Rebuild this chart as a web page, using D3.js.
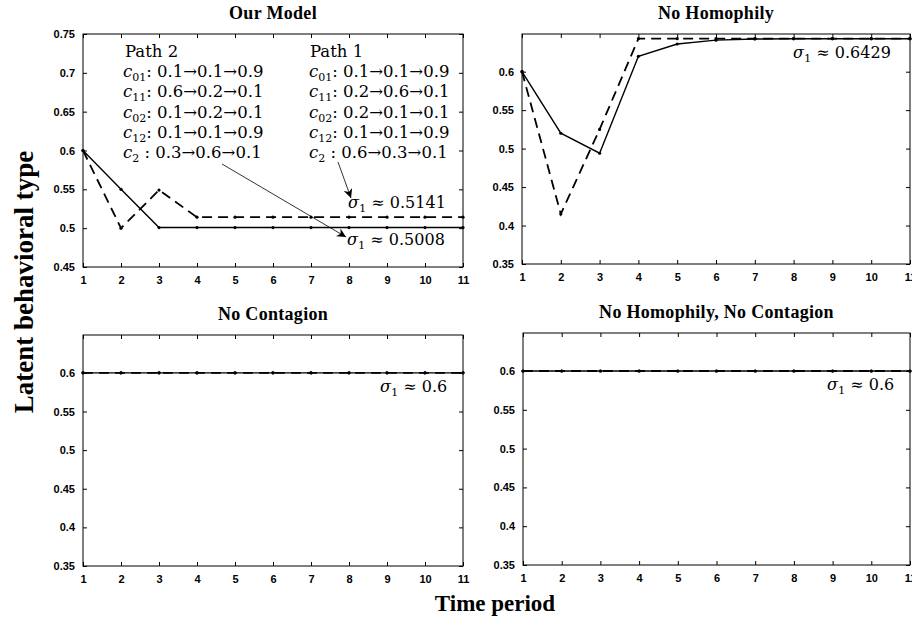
<!DOCTYPE html>
<html>
<head>
<meta charset="utf-8">
<script src="https://cdn.jsdelivr.net/npm/d3@7"></script>
<style>
  body { margin: 0; background: #fff; }
  .tick text { font-family: "Liberation Sans", Arial, sans-serif; font-weight: bold; font-size: 11px; }
  .title { font-family: "Liberation Serif", serif; font-weight: bold; }
  .tex { font-family: "DejaVu Serif", serif; font-size: 16.5px; }
</style>
</head>
<body>
<svg id="chart" width="912" height="620"></svg>
<script>
// time periods
const periods = [1, 2, 3, 4, 5, 6, 7, 8, 9, 10, 11];

// Our Model
const ourSolid  = [0.6, 0.55, 0.5008, 0.5008, 0.5008, 0.5008, 0.5008, 0.5008, 0.5008, 0.5008, 0.5008];
const ourDashed = [0.6, 0.5, 0.549, 0.5141, 0.5141, 0.5141, 0.5141, 0.5141, 0.5141, 0.5141, 0.5141];

// No Homophily
const nhSolid  = [0.6, 0.52, 0.494, 0.62, 0.636, 0.641, 0.6425, 0.6429, 0.6429, 0.6429, 0.6429];
const nhDashed = [0.6, 0.415, 0.525, 0.6429, 0.6429, 0.6429, 0.6429, 0.6429, 0.6429, 0.6429, 0.6429];

// No Contagion / No Homophily, No Contagion
const ncSolid  = [0.6, 0.6, 0.6, 0.6, 0.6, 0.6, 0.6, 0.6, 0.6, 0.6, 0.6];
const ncDashed = [0.6, 0.6, 0.6, 0.6, 0.6, 0.6, 0.6, 0.6, 0.6, 0.6, 0.6];

const ticksTop = [0.45, 0.5, 0.55, 0.6, 0.65, 0.7, 0.75];
const ticksLow = [0.35, 0.4, 0.45, 0.5, 0.55, 0.6];

const path2 = [["01", "0.1→0.1→0.9"], ["11", "0.6→0.2→0.1"], ["02", "0.1→0.2→0.1"], ["12", "0.1→0.1→0.9"], ["2", "0.3→0.6→0.1"]];
const path1 = [["01", "0.1→0.1→0.9"], ["11", "0.2→0.6→0.1"], ["02", "0.2→0.1→0.1"], ["12", "0.1→0.1→0.9"], ["2", "0.6→0.3→0.1"]];

const panels = [
    {title: "Our Model", left: 83, right: 463, top: 34, bottom: 267, domain: [0.45, 0.75], ticks: ticksTop, solid: ourSolid, dashed: ourDashed},
    {title: "No Homophily", left: 522, right: 910, top: 34, bottom: 264, domain: [0.35, 0.649], ticks: ticksLow, solid: nhSolid, dashed: nhDashed},
    {title: "No Contagion", left: 83, right: 463, top: 335, bottom: 566, domain: [0.35, 0.649], ticks: ticksLow, solid: ncSolid, dashed: ncDashed},
    {title: "No Homophily, No Contagion", left: 523, right: 910, top: 333, bottom: 565, domain: [0.35, 0.649], ticks: ticksLow, solid: ncSolid, dashed: ncDashed}
];

const svg = d3.select("#chart");

svg.append("defs").append("marker")
    .attr("id", "arr")
    .attr("viewBox", "0 0 10 10")
    .attr("refX", 10).attr("refY", 5)
    .attr("markerWidth", 9).attr("markerHeight", 9)
    .attr("markerUnits", "userSpaceOnUse")
    .attr("orient", "auto")
    .append("path")
    .attr("d", "M0,0 L10,5 L0,10 L3,5 Z")
    .attr("fill", "#000");

function texSigma(g, x, y, value) {
    const t = g.append("text").attr("class", "tex").attr("x", x).attr("y", y).style("font-size", "16px");
    t.append("tspan").attr("font-style", "italic").text("σ");
    t.append("tspan").style("font-size", "11.5px").attr("dy", 4).text("1");
    t.append("tspan").attr("dy", -4).text(" ≈ " + value);
}

function texC(g, x, y, sub, value) {
    const t = g.append("text").attr("class", "tex").attr("x", x).attr("y", y);
    t.append("tspan").attr("font-style", "italic").text("c");
    t.append("tspan").style("font-size", "11px").attr("dy", 4).text(sub);
    t.append("tspan").attr("dy", -4).text(sub === "2" ? " : " + value : ": " + value);
}

const scales = panels.map(function(p) {
    const x = d3.scaleLinear().domain([1, 11]).range([p.left, p.right]);
    const y = d3.scaleLinear().domain(p.domain).range([p.bottom, p.top]);

    const g = svg.append("g");

    // box
    g.append("rect")
        .attr("x", p.left).attr("y", p.top)
        .attr("width", p.right - p.left).attr("height", p.bottom - p.top)
        .attr("fill", "none").attr("stroke", "#000").attr("stroke-width", 1);

    // axes with inward ticks
    g.append("g")
        .attr("transform", "translate(0," + p.bottom + ")")
        .call(d3.axisBottom(x).tickValues(periods).tickSize(-4).tickPadding(9).tickFormat(d3.format("d")))
        .call(function(a) { a.select(".domain").remove(); });
    g.append("g")
        .attr("transform", "translate(0," + p.top + ")")
        .call(d3.axisTop(x).tickValues(periods).tickSize(-4).tickFormat(""))
        .call(function(a) { a.select(".domain").remove(); });
    g.append("g")
        .attr("transform", "translate(" + p.left + ",0)")
        .call(d3.axisLeft(y).tickValues(p.ticks).tickSize(-4).tickPadding(8).tickFormat(function(d) { return String(+d.toFixed(2)); }))
        .call(function(a) { a.select(".domain").remove(); });
    g.append("g")
        .attr("transform", "translate(" + p.right + ",0)")
        .call(d3.axisRight(y).tickValues(p.ticks).tickSize(-4).tickFormat(""))
        .call(function(a) { a.select(".domain").remove(); });

    // title
    g.append("text")
        .attr("class", "title")
        .style("font-size", "18px")
        .style("letter-spacing", "0.3px")
        .attr("x", (p.left + p.right) / 2)
        .attr("y", p.top - 15)
        .attr("text-anchor", "middle")
        .text(p.title);

    const line = d3.line()
        .x(function(d, i) { return x(periods[i]); })
        .y(function(d) { return y(d); });

    g.append("path")
        .datum(p.solid)
        .attr("fill", "none").attr("stroke", "#000").attr("stroke-width", 1.4)
        .attr("d", line);
    g.append("path")
        .datum(p.dashed)
        .attr("fill", "none").attr("stroke", "#000").attr("stroke-width", 1.8)
        .attr("stroke-dasharray", "10,6")
        .attr("d", line);

    [p.solid, p.dashed].forEach(function(s) {
        g.selectAll(null)
            .data(s)
            .enter()
            .append("circle")
            .attr("cx", function(d, i) { return x(periods[i]); })
            .attr("cy", function(d) { return y(d); })
            .attr("r", 1.6)
            .attr("fill", "#000");
    });

    return {x: x, y: y, g: g};
});

// annotations, Our Model
const a = scales[0];
a.g.append("text").attr("class", "tex").attr("x", 125).attr("y", 57).text("Path 2");
a.g.append("text").attr("class", "tex").attr("x", 310).attr("y", 57).text("Path 1");
path2.forEach(function(r, i) { texC(a.g, 123, 77 + i * 20.3, r[0], r[1]); });
path1.forEach(function(r, i) { texC(a.g, 309, 77 + i * 20.3, r[0], r[1]); });
texSigma(a.g, 348, 208, "0.5141");
texSigma(a.g, 347, 245, "0.5008");
a.g.append("line")
    .attr("x1", 338).attr("y1", 162).attr("x2", 351).attr("y2", 198)
    .attr("stroke", "#000").attr("stroke-width", 0.8).attr("marker-end", "url(#arr)");
a.g.append("line")
    .attr("x1", 222).attr("y1", 164).attr("x2", 346).attr("y2", 237)
    .attr("stroke", "#000").attr("stroke-width", 0.8).attr("marker-end", "url(#arr)");

texSigma(scales[1].g, 793, 58, "0.6429");
texSigma(scales[2].g, 380, 392, "0.6");
texSigma(scales[3].g, 827, 390, "0.6");

// shared axis labels
svg.append("text")
    .attr("class", "title")
    .style("font-size", "27px")
    .attr("transform", "translate(33,282) rotate(-90)")
    .attr("text-anchor", "middle")
    .text("Latent behavioral type");
svg.append("text")
    .attr("class", "title")
    .style("font-size", "23px")
    .attr("x", 495).attr("y", 611)
    .attr("text-anchor", "middle")
    .text("Time period");
</script>
</body>
</html>
